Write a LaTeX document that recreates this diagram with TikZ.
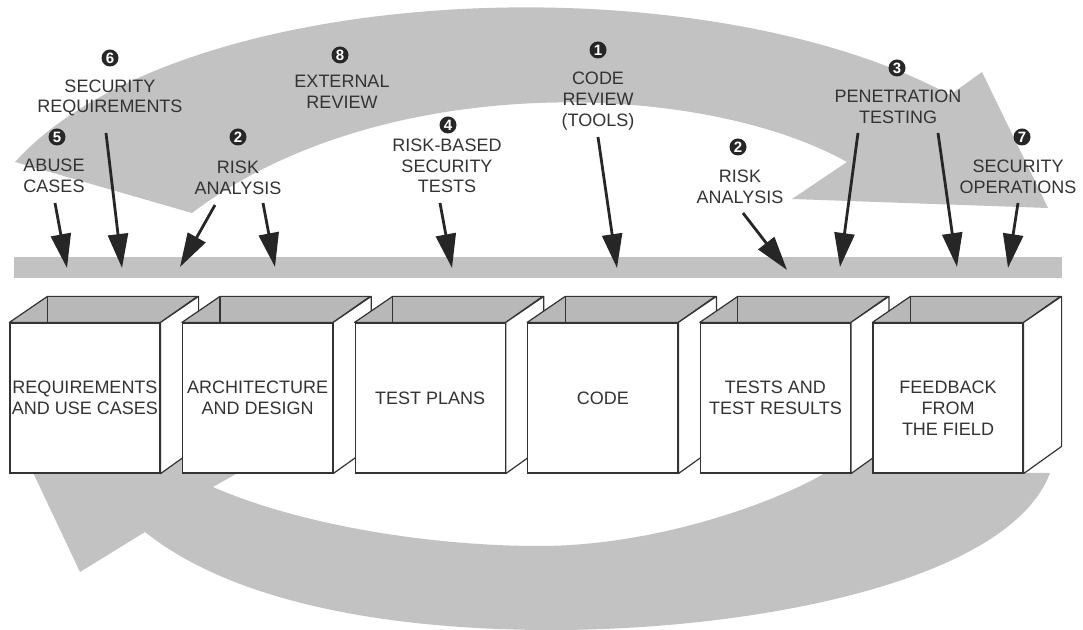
\documentclass[tikz,border=0pt]{standalone}
\usepackage{fontspec}
\setmainfont{Liberation Sans}
\usetikzlibrary{arrows.meta}
\definecolor{band}{gray}{0.76}
\definecolor{lid}{gray}{0.72}
\definecolor{ink}{gray}{0.2}

\begin{document}
\begin{tikzpicture}[x=.5pt,y=-.5pt,
 lbl/.style={align=center,text=ink,font=\fontsize{9}{10.4}\selectfont,inner sep=1pt},
 num/.style={circle,fill=black!85,text=white,inner sep=0pt,minimum size=8.5pt,font=\fontsize{7.5}{8}\selectfont\bfseries},
 feed/.style={line width=1.4pt,draw=black!85,-{Triangle[length=17pt,width=10pt]}},
 front/.style={draw=ink,line width=.6pt,fill=white,minimum width=75pt,minimum height=75pt,inner sep=0pt}]
\useasboundingbox (0,0) rectangle (1083,630);
\fill[band] (15,162) .. controls (180,-20) and (700,-40) .. (950,95) -- (982,72) -- (1048,208) -- (792,199)
  -- (847,162) .. controls (700,80) and (380,70) .. (192,213) -- cycle;
\fill[band] (1050,473) .. controls (1010,580) and (760,630) .. (552,630) .. controls (380,630) and (230,600) .. (145,532)
  -- (80,572) -- (20,445) -- (280,449) -- (213,487) .. controls (300,525) and (430,546) .. (539,546)
  .. controls (660,546) and (780,500) .. (825,473) -- (845,440) -- (1023,440) -- (1023,473) -- cycle;
\node[fill=band,minimum width=524pt,minimum height=10.5pt,inner sep=0pt] (bar) at (538,267.5) {};
\foreach \i/\x/\dy/\t in {1/85/0/{REQUIREMENTS\\AND USE CASES},2/257.6/0/{ARCHITECTURE\\AND DESIGN},3/430.2/0/{TEST PLANS},
  4/602.8/0/CODE,5/775.4/0/{TESTS AND\\TEST RESULTS},6/948/-5/{FEEDBACK\\FROM\\THE FIELD}}{
\node[front] (box\i) at (\x,398) {};
\draw[ink,line width=.6pt,fill=lid,line join=round] (box\i.north west)--++(38,-26)--++(150,0)--(box\i.north east)--cycle;
\draw[ink,line width=.6pt] (box\i.north west)++(38,-26)--++(0,26);
\draw[ink,line width=.6pt,fill=white,line join=round] (box\i.north east)--++(38,-26)--++(0,150)--(box\i.south east)--cycle;
\node[lbl,yshift=\dy pt] (txt\i) at (box\i) {\t};}
\node[lbl] (secreq) at (110,98) {SECURITY\\REQUIREMENTS};
\node[lbl] (abuse) at (54,176) {ABUSE\\CASES};
\node[lbl] (extrev) at (342,92) {EXTERNAL\\REVIEW};
\node[lbl] (riskA) at (238,178) {RISK\\ANALYSIS};
\node[lbl] (rbst) at (447,166) {RISK-BASED\\SECURITY\\TESTS};
\node[lbl] (codrev) at (598,101) {CODE\\REVIEW\\(TOOLS)};
\node[lbl] (riskB) at (740,187) {RISK\\ANALYSIS};
\node[lbl] (pentest) at (898,107) {PENETRATION\\TESTING};
\node[lbl] (secops) at (1018,177) {SECURITY\\OPERATIONS};
\foreach \nm/\n/\xx/\yy in {c6/6/110/58,c5/5/57/137,c8/8/340/55,c2a/2/238/137,c4/4/448/125,c1/1/598/50,c2b/2/738/147,c3/3/897/68,c7/7/1022/137}
  \node[num] (\nm) at (\xx,\yy) {\n};
\foreach \k/\a/\b/\c/\d in {1/55/203/67/268,2/106/133/122/268,3/215/205/180/267,4/263/203/275/267,5/440/203/452/268,
  6/598/137/617/268,7/743/213/787/270,8/858/133/840/267,9/938/133/957/267,10/1018/203/1008/268}{
\coordinate (fr\k) at (\a,\b); \coordinate (to\k) at (\c,\d);
\draw[feed] (fr\k)--(to\k);}
\end{tikzpicture}
\end{document}
